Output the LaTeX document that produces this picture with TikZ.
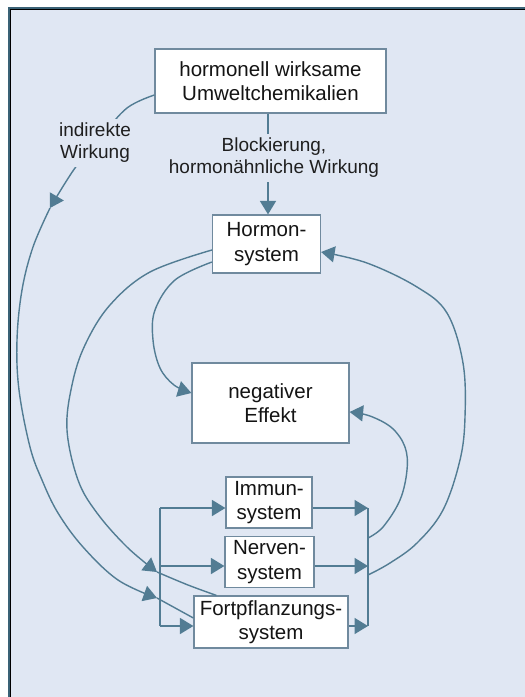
\documentclass[tikz,border=0pt]{standalone}
\usepackage{fontspec}
\setmainfont{Liberation Sans}
\usetikzlibrary{arrows.meta}
\definecolor{bgcol}{RGB}{224,231,243}
\definecolor{lncol}{RGB}{82,124,147}
\definecolor{boxcol}{RGB}{112,138,158}
\definecolor{frameteal}{RGB}{58,98,118}
\begin{document}
\begin{tikzpicture}[x=1pt,y=-1pt,
  box/.style={draw=boxcol, line width=1.2pt, fill=white, inner sep=0pt, align=center,
              font=\fontsize{20.5}{24.5}\selectfont, text=black!92},
  lbl/.style={fill=bgcol, inner xsep=2pt, inner ysep=4pt, align=center,
              font=\fontsize{19}{22}\selectfont, text=black!88},
  conn/.style={draw=lncol, line width=1.7pt},
  curve/.style={draw=lncol, line width=1.4pt},
  arr/.style={conn, -{Triangle[length=13.5pt,width=16pt]}},
  carr/.style={curve, -{Triangle[length=13.5pt,width=16pt]}},
  smooth/.append style={tension=0.6}
]
\useasboundingbox (0,0) rectangle (525,697);
% frame
\fill[white] (0,0) rectangle (525,697);
\fill[frameteal] (8,7) rectangle (525,697);
\fill[black] (10,9.3) rectangle (525,697);
\fill[bgcol] (11,10.3) rectangle (525,697);

% boxes
\node[box, minimum width=231pt, minimum height=64pt] (umwelt) at (270.5,81) {hormonell wirksame\\Umweltchemikalien};
\node[box, minimum width=108pt, minimum height=58pt] (hormon) at (266.5,244) {Hormon-\\system};
\node[box, minimum width=157pt, minimum height=80pt] (negativ) at (270.5,403) {negativer\\Effekt};
\node[box, minimum width=86pt, minimum height=51pt] (immun) at (269,502.5) {Immun-\\system};
\node[box, minimum width=89pt, minimum height=51pt] (nerven) at (269.5,562) {Nerven-\\system};
\node[box, minimum width=154pt, minimum height=52pt] (fort) at (271,622) {Fortpflanzungs-\\system};

% helper coordinates
\coordinate (vx) at (268,0);
\coordinate (lbI) at (160,508);
\coordinate (lbN) at (160,566);
\coordinate (lbF) at (160,626);
\coordinate (rbI) at (368,508);
\coordinate (rbN) at (368,566);
\coordinate (rbF) at (368,626);
\coordinate (rc1) at (368,538);
\coordinate (rc2) at (368,575);
\coordinate (ia) at (50,208);
\coordinate (ib) at (157,598);
\coordinate (hb) at (157,572);

% vertical arrow
\draw[arr] (umwelt.south -| vx) -- (hormon.north -| vx);

% indirect effect curve
\draw[carr] plot[smooth] coordinates {([yshift=-14pt]umwelt.west) (127,108) (101,137) (75,168) (ia)};
\draw[carr] plot[smooth] coordinates {(ia) (33,247) (22,290) (17,340) (19,390) (30,447) (42,480) (58,513) (83,547) (118,580) (ib)};
\draw[curve] plot[smooth] coordinates {(ib) (177,609) ([yshift=4pt]fort.west)};

% hormon -> systems curve
\draw[carr] plot[smooth] coordinates {([yshift=-6pt]hormon.west) (150,272) (110,305) (85,345) (72,385) (67,430) (78,480) (97,513) (127,547) (hb)};
\draw[curve] plot[smooth] coordinates {(hb) (188,585) ([xshift=23pt]fort.north west)};

% hormon -> negativer Effekt
\draw[carr] plot[smooth] coordinates {([yshift=-18pt]hormon.west) (175,280) (155,310) (153,340) (160,368) (174,385) ([yshift=10pt]negativ.west)};

% buses
\draw[conn] (lbI) -- (lbF);
\draw[conn] (rbI) -- (rbF);
\draw[arr] (lbI) -- (lbI -| immun.west);
\draw[arr] (lbN) -- (lbN -| nerven.west);
\draw[arr] (lbF) -- (lbF -| fort.west);
\draw[arr] (rbI -| immun.east) -- (rbI);
\draw[arr] (rbN -| nerven.east) -- (rbN);
\draw[arr] (rbF -| fort.east) -- (rbF);

% feedback curves on the right
\draw[carr] plot[smooth] coordinates {(rc2) (390,563) (417,543) (443,510) (460,460) (465,417) (463,363) (447,313) (417,287) (367,263) ([yshift=-8pt]hormon.east)};
\draw[carr] plot[smooth] coordinates {(rc1) (383,527) (400,500) (407,470) (405,447) (392,428) (370,416) ([yshift=-9pt]negativ.east)};

% labels
\node[lbl] (lblB) at (274,158) {Blockierung,\\hormonähnliche Wirkung};
\node[lbl] (lblI) at (95,143) {indirekte\\Wirkung};
\end{tikzpicture}
\end{document}
